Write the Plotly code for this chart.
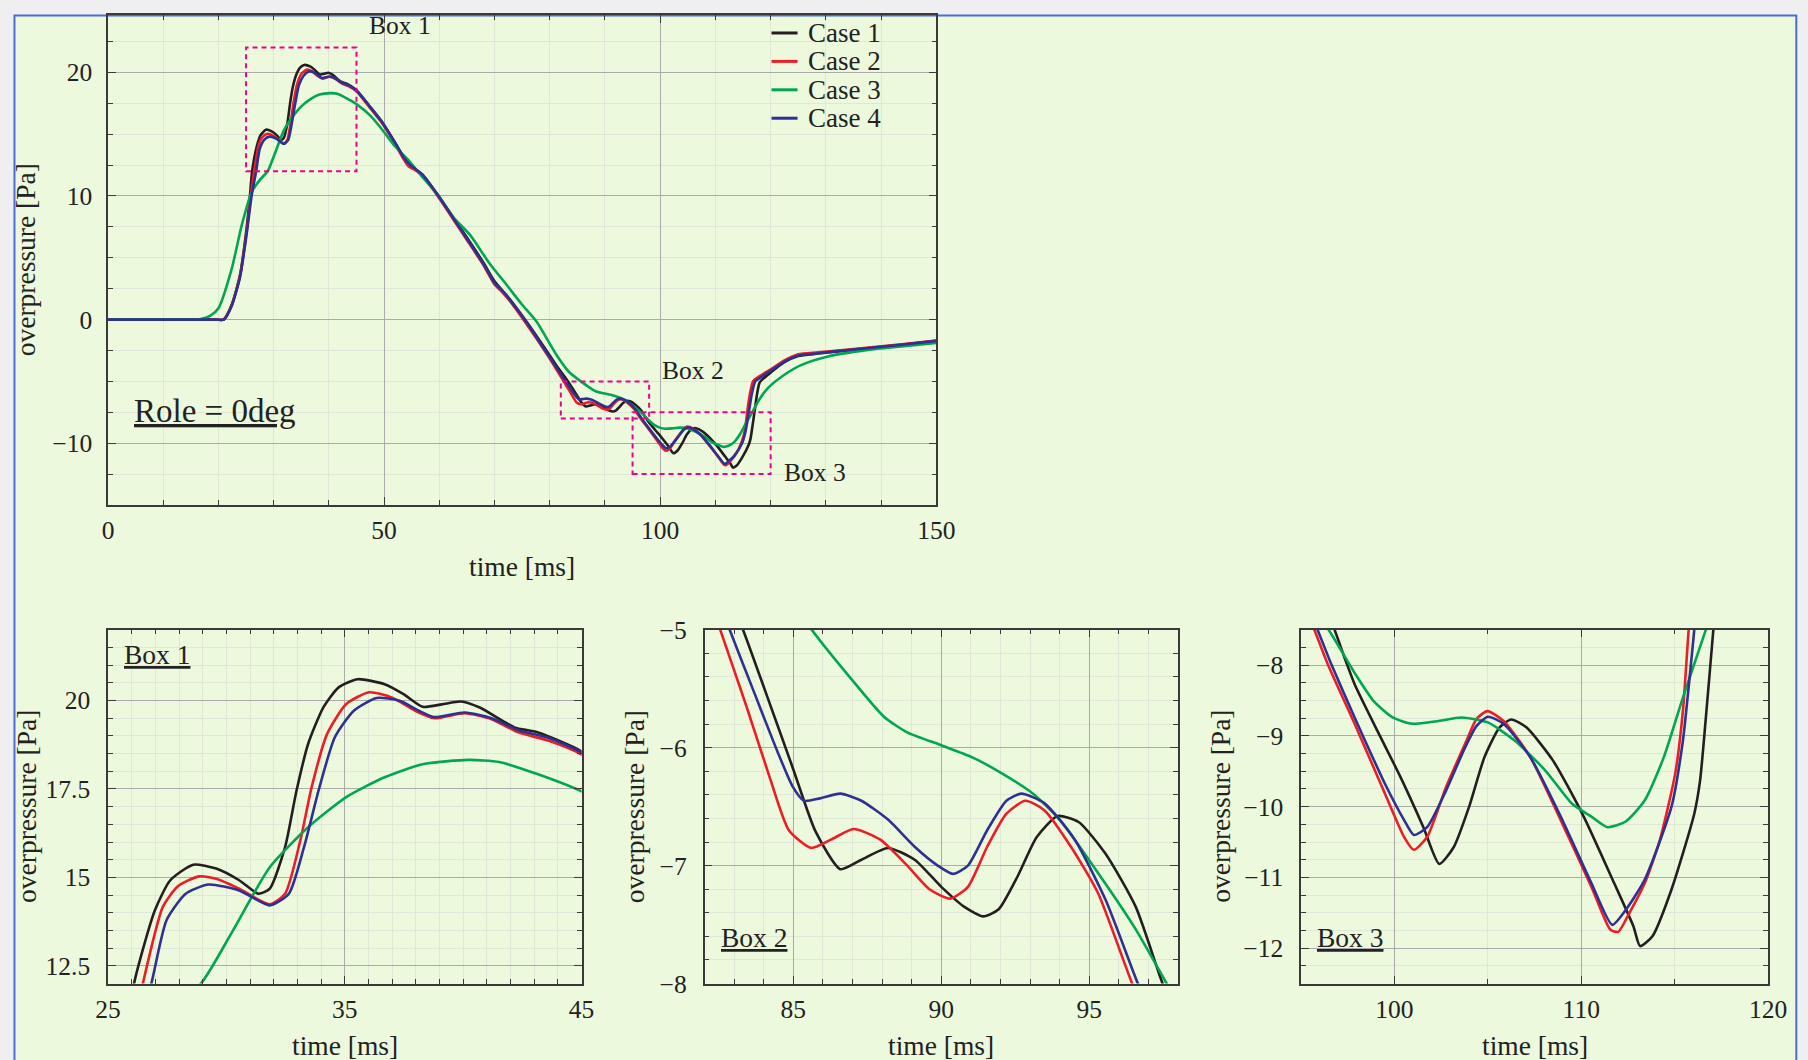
import plotly.graph_objects as go

W, H = 1832, 1078
FONT = "Liberation Serif"

# ---------------------------------------------------------------- data
# time [ms] and overpressure [Pa] for each case
case1_t = [0, 10, 19.5, 20.9, 22.4, 23.9, 25.1, 25.7, 26.1, 26.98, 27.63, 28.6, 29.57, 30.54,
           31.35, 31.83, 32.48, 32.96, 33.45, 34.09, 34.74, 35.54, 36.68, 37.48, 38.29, 39.1,
           39.9, 40.7, 42.16, 43.13, 45, 47.3, 49.6, 52.0, 53.5, 54.6, 55.6, 57.0, 60.0, 64.6,
           68.0, 70.0, 72.5, 76.0, 79.7, 81.5, 83.3, 84.08, 84.98, 85.75, 86.59, 87.3, 88.2,
           89.1, 90.0, 90.78, 91.42, 91.94, 92.58, 93.22, 93.93, 94.64, 95.55, 96.57, 97.35,
           97.87, 99.09, 100.32, 101.55, 102.4, 103.18, 104.0, 104.82, 105.63, 106.25, 107.06,
           108.49, 110.13, 111.76, 112.79, 113.15, 113.81, 114.83, 116.05, 116.36, 116.67,
           117.07, 117.55, 118.0, 118.6, 120.1, 122.5, 125.0, 128.6, 134.6, 143.7, 150]
case1_p = [0, 0, 0, 0, 1.2, 3.6, 7.4, 10.0, 12.0, 14.07, 14.92, 15.36, 15.25, 14.92,
           14.54, 14.68, 15.86, 17.45, 18.77, 19.8, 20.37, 20.6, 20.46, 20.18, 19.82, 19.89,
           19.97, 19.8, 19.24, 19.1, 18.56, 17.3, 16.0, 14.3, 13.2, 12.6, 12.2, 11.7, 9.9, 6.9,
           4.6, 3.1, 1.8, -0.3, -2.7, -3.9, -5.0, -5.54, -6.17, -6.71, -7.03, -6.95, -6.85,
           -6.95, -7.18, -7.35, -7.43, -7.37, -7.09, -6.76, -6.58, -6.63, -6.9, -7.35, -7.91,
           -8.27, -8.93, -9.58, -10.29, -10.81, -10.57, -10.0, -9.3, -8.88, -8.77, -8.88,
           -9.35, -10.14, -11.08, -11.69, -11.97, -11.83, -11.17, -10.1, -9.63, -8.74,
           -7.5, -6.0, -5.1, -4.8, -4.25, -3.45, -2.95, -2.75, -2.45, -2.04, -1.74]

case2_t = [0, 10, 19.6, 21.0, 22.4, 23.9, 25.1, 25.85, 26.47, 27.31, 27.95, 28.84, 29.57,
           30.54, 31.83, 32.48, 33.12, 33.6, 34.25, 35.06, 36.03, 37.0, 37.97, 38.78, 40.07,
           41.2, 42.33, 43.62, 45, 47.3, 49.6, 52.0, 53.5, 54.4, 55.6, 57.0, 60.0, 64.6, 68.0,
           70.0, 71.2, 72.5, 76.0, 79.7, 82.53, 83.43, 84.2, 84.85, 85.6, 86.27, 87.04, 87.94,
           88.85, 89.6, 90.3, 90.9, 91.55, 92.2, 92.84, 93.48, 94.38, 95.29, 96.45, 97.87,
           99.5, 100.52, 101.04, 101.75, 102.77, 103.79, 104.4, 104.98, 105.84, 107.27, 108.9,
           110.54, 111.56, 111.97, 112.58, 113.4, 114.21, 115.03, 115.44, 115.75, 116.25,
           116.8, 117.4, 120.1, 122.5, 125.0, 128.6, 134.6, 143.7, 150]
case2_p = [0, 0, 0, 0, 1.15, 3.5, 7.1, 10.0, 12.0, 14.16, 14.75, 15.03, 14.96,
           14.68, 14.24, 14.54, 16.04, 17.55, 19.05, 19.9, 20.23, 20.08, 19.71, 19.5, 19.64,
           19.47, 19.1, 18.86, 18.47, 17.2, 15.9, 14.2, 13.0, 12.4, 12.1, 11.6, 9.8, 6.7, 4.4,
           2.85, 2.3, 1.65, -0.5, -2.95, -5.0, -5.66, -6.25, -6.7, -6.85, -6.78, -6.69, -6.78,
           -7.0, -7.2, -7.28, -7.18, -6.84, -6.56, -6.45, -6.53, -6.84, -7.23, -8.0, -8.83,
           -9.82, -10.43, -10.61, -10.43, -9.72, -9.11, -8.76, -8.65, -8.79, -9.3, -10.19,
           -11.13, -11.74, -11.77, -11.5, -11.08, -10.47, -9.53, -8.65, -7.5, -6.0,
           -5.0, -4.75, -4.0, -3.3, -2.8, -2.65, -2.4, -2.0, -1.7]

case3_t = [0, 10, 15.8, 16.8, 18.5, 20.0, 22.4, 24.2, 26.0, 27.5, 28.92, 30.2, 31.83, 33.45,
           35.06, 36.68, 38.29, 40.23, 41.52, 43.13, 45, 47.5, 49.6, 52.0, 54.4, 56.8, 59.8,
           62.5, 65.6, 69.0, 72.2, 75.0, 77.6, 81.2, 83.4, 85.62, 86.9, 88.07, 88.85, 90.0,
           91.03, 92.06, 93.1, 94.0, 95.29, 96.57, 97.87, 98.89, 99.91, 100.93, 102.37, 103.59,
           105.0, 106.45, 108.08, 109.51, 110.54, 111.41, 112.38, 113.4, 114.42, 115.44,
           116.67, 117.9, 119.5, 122.5, 125.6, 130.4, 137.6, 143.7, 150]
case3_p = [0, 0, 0, 0.05, 0.3, 0.92, 4.1, 7.6, 10.3, 11.3, 12.0, 13.41, 15.29, 16.42,
           17.27, 17.83, 18.2, 18.32, 18.26, 17.92, 17.43, 16.5, 15.4, 14.0, 12.9, 11.6, 10.05,
           8.3, 6.83, 4.6, 2.8, 1.2, -0.16, -2.85, -4.2, -5.0, -5.4, -5.74, -5.87, -5.98,
           -6.08, -6.22, -6.39, -6.61, -7.06, -7.54, -8.11, -8.51, -8.74, -8.83, -8.79, -8.74,
           -8.81, -9.07, -9.49, -9.96, -10.14, -10.29, -10.21, -9.91, -9.3, -8.46,
           -7.5, -6.5, -5.54, -4.46, -3.66, -2.98, -2.45, -2.18, -1.9]

case4_t = [0, 10, 19.6, 21.0, 22.4, 23.9, 25.1, 26.0, 26.83, 27.47, 28.28, 29.25, 30.54,
           31.83, 32.64, 33.28, 33.93, 34.58, 35.38, 36.35, 37.32, 38.13, 38.78, 40.07, 41.2,
           42.33, 43.62, 45, 47.3, 49.6, 52.0, 53.5, 54.6, 55.6, 57.0, 60.0, 64.6, 68.0, 70.0,
           71.2, 72.5, 76.0, 79.7, 82.85, 83.69, 84.46, 84.98, 85.36, 85.9, 86.59, 87.3, 88.2,
           89.1, 89.88, 90.39, 90.9, 91.55, 92.2, 92.7, 93.48, 94.51, 95.55, 96.64, 97.87,
           99.5, 100.52, 101.04, 101.75, 102.77, 103.79, 104.4, 105.0, 105.84, 107.27, 108.9,
           110.54, 111.66, 112.38, 113.4, 114.83, 115.44, 115.85, 116.05, 116.6, 117.2,
           117.8, 120.1, 122.5, 125.0, 128.6, 134.6, 143.7, 150]
case4_p = [0, 0, 0, 0, 1.1, 3.4, 6.9, 10.0, 12.0, 13.79, 14.54, 14.8, 14.63,
           14.21, 14.54, 15.86, 17.55, 18.96, 19.71, 20.07, 19.99, 19.71, 19.53, 19.66, 19.5,
           19.16, 18.94, 18.53, 17.3, 16.0, 14.3, 13.15, 12.55, 12.2, 11.7, 9.9, 6.8, 4.5, 2.95,
           2.45, 1.75, -0.35, -2.85, -5.0, -5.54, -6.03, -6.33, -6.45, -6.43, -6.39, -6.45,
           -6.61, -6.84, -7.0, -7.07, -7.0, -6.7, -6.45, -6.39, -6.47, -6.78, -7.29, -8.0,
           -8.74, -9.68, -10.19, -10.4, -10.29, -9.77, -9.16, -8.86, -8.73, -8.83, -9.3,
           -10.14, -11.08, -11.67, -11.46, -11.03, -10.0, -9.07, -8.04, -7.5, -6.0, -5.0,
           -4.8, -4.1, -3.4, -2.9, -2.72, -2.44, -2.03, -1.72]

case_names = ["Case 1", "Case 2", "Case 3", "Case 4"]
case_colors = ["#231f20", "#ee1c25", "#00a651", "#2e3192"]

# zoom windows (time range, pressure range) shown as dashed boxes
box_names = ["Box 1", "Box 2", "Box 3"]
box_t = [(25, 45), (82, 98), (95, 120)]
box_p = [(12, 22), (-8, -5), (-12.5, -7.5)]

# ---------------------------------------------------------------- style
BG = "#edf9dc"
AX = "#3a3a3a"
GRID = "#ababab"
MINOR = "#dfe7d6"
TXT = "#222222"
BOXLINE = "#ec008c"
TICK_SIZE, TITLE_SIZE, LEGEND_SIZE = 25.5, 27.5, 27
CAPTION_SIZE, PANEL_SIZE, ROLE_SIZE = 25.5, 27.5, 33


def fx(px):
    return px / W


def fy(py):
    return 1 - py / H


def axis(rng, domain, dtick, minor_dtick, tick0=0, standoff=11):
    return dict(
        range=rng, domain=domain, tick0=tick0, dtick=dtick,
        showline=True, linecolor=AX, linewidth=1.5, mirror="allticks",
        ticks="inside", ticklen=8, tickwidth=1.2, tickcolor=AX,
        showgrid=True, gridcolor=GRID, gridwidth=1, zeroline=False,
        minor=dict(tick0=0, dtick=minor_dtick, ticks="inside", ticklen=5,
                   tickwidth=1, tickcolor=AX, showgrid=True,
                   gridcolor=MINOR, gridwidth=1),
        tickfont=dict(family=FONT, size=TICK_SIZE, color=TXT),
        ticklabelstandoff=standoff, fixedrange=True,
    )


series = [(case1_t, case1_p), (case2_t, case2_p), (case3_t, case3_p), (case4_t, case4_p)]
subplots = [("x", "y"), ("x2", "y2"), ("x3", "y3"), ("x4", "y4")]

fig = go.Figure()
for k, (xa, ya) in enumerate(subplots):
    for name, color, (t, p) in zip(case_names, case_colors, series):
        fig.add_trace(go.Scatter(
            x=t, y=p, mode="lines", name=name, xaxis=xa, yaxis=ya,
            line=dict(color=color, width=2.6, shape="spline", smoothing=0.6),
            showlegend=False, hoverinfo="skip",
        ))

# pixel extents of the four plot areas
main_x, main_y = (96.7, 939.7), (1.0, 504.6)
panel_y = (632.7, 996.4)
panel_x = [(96.7, 578.7), (703.8, 1185.8), (1310.9, 1786.3)]
ytitle_x = [13.5, 632.6, 1229.5]

layout = dict(
    width=W, height=H, margin=dict(l=0, r=0, t=0, b=0),
    paper_bgcolor="#efeff2", plot_bgcolor=BG,
    font=dict(family=FONT, size=TICK_SIZE, color=TXT),
    showlegend=False,
    xaxis=axis([0, 150], [fx(main_x[0]), fx(main_x[1])], 50, 10, standoff=2),
    yaxis=axis([-15, 24.64], [fy(main_y[1]), fy(main_y[0])], 10, 2.5, standoff=9),
)
y_dom = [fy(panel_y[1]), fy(panel_y[0])]
panel_cfg = [
    (box_t[0], box_p[0], 10, 1, 25, 2.5, 0.5),
    (box_t[1], box_p[1], 5, 1, 0, 1, 0.2),
    (box_t[2], box_p[2], 10, 5, 0, 1, 0.25),
]
for i, ((t0, t1), (p0, p1), xd, xm, xt0, yd, ym) in enumerate(panel_cfg):
    n = i + 2
    layout[f"xaxis{n}"] = dict(axis([t0, t1], [fx(panel_x[i][0]), fx(panel_x[i][1])], xd, xm,
                                    tick0=xt0, standoff=2), anchor=f"y{n}")
    layout[f"yaxis{n}"] = dict(axis([p0, p1], y_dom, yd, ym), anchor=f"x{n}")
fig.update_layout(**layout)

# page background card
fig.add_shape(type="rect", xref="paper", yref="paper",
              x0=fx(1.5), x1=fx(1815), y0=fy(1095), y1=fy(1.5),
              fillcolor=BG, line=dict(color="#4a6cd4", width=2), layer="below")

# dashed zoom boxes on the main plot
for (t0, t1), (p0, p1) in zip(box_t, box_p):
    fig.add_shape(type="rect", xref="x", yref="y", x0=t0, x1=t1, y0=p0, y1=p1,
                  line=dict(color=BOXLINE, width=2, dash="5px,4px"), layer="above")

ann = []
# legend: short line sample + case name per row
for i, (name, color) in enumerate(zip(case_names, case_colors)):
    row_y = 19.5 + i * 29.2
    fig.add_shape(type="line", xref="paper", yref="paper",
                  x0=fx(772), x1=fx(798.5), y0=fy(row_y), y1=fy(row_y),
                  line=dict(color=color, width=3), layer="above")
    ann.append(dict(text=name, x=fx(807), y=fy(row_y), xref="paper", yref="paper",
                    xanchor="left", yanchor="middle", showarrow=False,
                    font=dict(size=LEGEND_SIZE)))

# box captions on the main plot
for name, (tx, py) in zip(box_names, [(52.8, 23.8), (106.0, -4.1), (128.1, -12.4)]):
    ann.append(dict(text=name, x=tx, y=py, xref="x", yref="y", showarrow=False,
                    xanchor="center", yanchor="middle", font=dict(size=CAPTION_SIZE)))
ann.append(dict(text="<u>Role = 0deg</u>", x=19.4, y=-7.4, xref="x", yref="y",
                xanchor="center", yanchor="middle", showarrow=False,
                font=dict(size=ROLE_SIZE)))
# underlined captions inside the zoom panels
for i, name in enumerate(box_names):
    n = i + 2
    ann.append(dict(text=f"<u>{name}</u>", x=0.03, y=0.93 if i == 0 else 0.13,
                    xref=f"x{n} domain", yref=f"y{n} domain", xanchor="left",
                    yanchor="middle", showarrow=False, font=dict(size=PANEL_SIZE)))

# axis titles
ann.append(dict(text="time [ms]", x=fx(sum(main_x) / 2), y=fy(568), xref="paper", yref="paper",
                xanchor="center", yanchor="middle", showarrow=False,
                font=dict(size=TITLE_SIZE)))
ann.append(dict(text="overpressure [Pa]", x=fx(ytitle_x[0]), y=fy(sum(main_y) / 2),
                xref="paper", yref="paper", xanchor="center", yanchor="middle",
                textangle=-90, showarrow=False, font=dict(size=TITLE_SIZE)))
for (xa, xb), ytx in zip(panel_x, ytitle_x):
    ann.append(dict(text="time [ms]", x=fx((xa + xb) / 2), y=fy(1060), xref="paper",
                    yref="paper", xanchor="center", yanchor="middle", showarrow=False,
                    font=dict(size=TITLE_SIZE)))
    ann.append(dict(text="overpressure [Pa]", x=fx(ytx), y=fy(sum(panel_y) / 2),
                    xref="paper", yref="paper", xanchor="center", yanchor="middle",
                    textangle=-90, showarrow=False, font=dict(size=TITLE_SIZE)))
fig.update_layout(annotations=ann)

fig.write_html("out.html", config={"displayModeBar": False})
